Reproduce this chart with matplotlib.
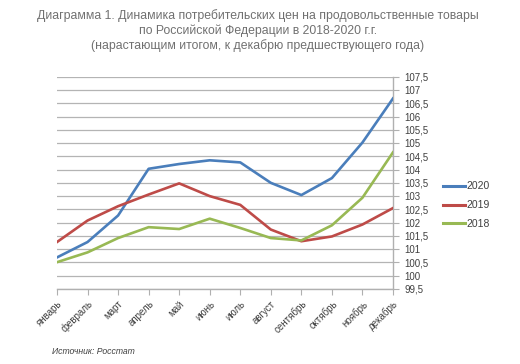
import matplotlib
matplotlib.use("Agg")
import matplotlib.pyplot as plt
from matplotlib.lines import Line2D

months = ["январь", "февраль", "март", "апрель", "май", "июнь", "июль",
          "август", "сентябрь", "октябрь", "ноябрь", "декабрь"]
y2020 = [100.69, 101.27, 102.27, 104.03, 104.21, 104.35, 104.27, 103.50, 103.04, 103.68, 105.02, 106.68]
y2019 = [101.27, 102.08, 102.62, 103.06, 103.48, 103.00, 102.67, 101.74, 101.30, 101.48, 101.93, 102.55]
y2018 = [100.51, 100.88, 101.42, 101.83, 101.76, 102.15, 101.80, 101.42, 101.33, 101.90, 102.94, 104.65]
series = [("2020", y2020, "#4A7EBB"), ("2019", y2019, "#BE4B48"), ("2018", y2018, "#98B954")]
yticks = [99.5 + 0.5 * i for i in range(17)]

plt.rcParams['font.family'] = ['Liberation Sans', 'DejaVu Sans']

fig = plt.figure(figsize=(5.2, 3.64), dpi=100)
ax = fig.add_axes([57/520, 1 - 289/364, (393 - 57)/520, (289 - 76.7)/364])

x = list(range(len(months)))
for name, vals, col in series:
    ax.plot(x, vals, color=col, lw=1.9, solid_joinstyle='round', label=name, zorder=3)

ax.set_xlim(0, 11)
ax.set_ylim(99.5, 107.5)
ax.set_yticks(yticks)
ax.set_yticklabels([("%g" % v).replace(".", ",") for v in yticks])
ax.yaxis.tick_right()
ax.set_xticks(x)
ax.set_xticklabels(months, rotation=45, ha='right', va='top', rotation_mode='anchor')

for s in ["top", "left"]:
    ax.spines[s].set_visible(False)
for s in ["right", "bottom"]:
    ax.spines[s].set_color("#b0b0b0")
    ax.spines[s].set_linewidth(1.0)

ax.grid(axis='y', color="#b4b4b4", lw=0.9)
ax.tick_params(axis='y', which='both', direction='out', length=4, color="#b0b0b0",
               labelsize=7, labelcolor="#404040", pad=4)
ax.tick_params(axis='x', direction='out', length=4, color="#b0b0b0",
               labelsize=7, labelcolor="#404040", pad=3)

handles = [Line2D([0], [0], color=c, lw=2.2) for _, _, c in series]
fig.legend(handles, [n for n, _, _ in series], loc='upper left',
           bbox_to_anchor=(434/520, 1 - 172/364), frameon=False,
           fontsize=7.5, handlelength=2.1, handletextpad=0.1, labelspacing=0.85,
           labelcolor="#404040")

title = ("Диаграмма 1. Динамика потребительских цен на продовольственные товары\n"
         "по Российской Федерации в 2018-2020 г.г.\n"
         "(нарастающим итогом, к декабрю предшествующего года)")
fig.text(258/520, 1 - 9/364, title, ha='center', va='top', fontsize=8.8,
         color="#707070", linespacing=1.25)

fig.text(52/520, 1 - 351/364, "Источник: Росстат", ha='left', va='center',
         fontsize=6.2, style='italic', color="#404040")

fig.savefig("out.png", dpi=100)
